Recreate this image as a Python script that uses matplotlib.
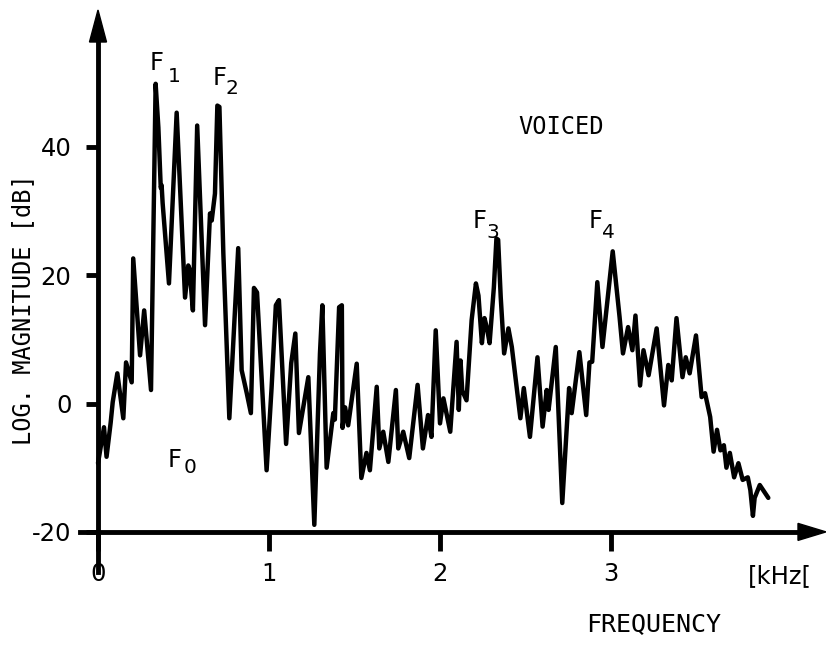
import matplotlib
matplotlib.use("Agg")
import matplotlib.pyplot as plt
from matplotlib import font_manager

# spectrum (frequency in kHz, log magnitude in dB)
freq_khz = [
    0.000, 0.035, 0.050, 0.074, 0.086, 0.113, 0.148, 0.164, 0.197, 0.206,
    0.246, 0.270, 0.310, 0.337, 0.353, 0.367, 0.372, 0.378, 0.415, 0.460,
    0.509, 0.528, 0.535, 0.555, 0.580, 0.626, 0.655, 0.665, 0.684, 0.698,
    0.710, 0.733, 0.768, 0.820, 0.840, 0.870, 0.894, 0.912, 0.930, 0.986,
    1.015, 1.040, 1.058, 1.100, 1.130, 1.154, 1.175, 1.230, 1.265, 1.298,
    1.312, 1.337, 1.376, 1.385, 1.410, 1.426, 1.430, 1.445, 1.463, 1.513,
    1.540, 1.570, 1.590, 1.630, 1.645, 1.668, 1.698, 1.742, 1.756, 1.785,
    1.820, 1.869, 1.900, 1.930, 1.950, 1.975, 2.000, 2.020, 2.060, 2.097,
    2.110, 2.120, 2.130, 2.155, 2.185, 2.210, 2.225, 2.245, 2.260, 2.275,
    2.290, 2.315, 2.330, 2.340, 2.355, 2.375, 2.400, 2.420, 2.470, 2.490,
    2.526, 2.570, 2.600, 2.624, 2.635, 2.677, 2.715, 2.755, 2.770, 2.815,
    2.855, 2.874, 2.890, 2.920, 2.950, 3.010, 3.050, 3.070, 3.100, 3.125,
    3.143, 3.170, 3.190, 3.220, 3.267, 3.310, 3.335, 3.355, 3.383, 3.418,
    3.437, 3.460, 3.497, 3.530, 3.550, 3.580, 3.600, 3.620, 3.640, 3.660,
    3.675, 3.695, 3.720, 3.745, 3.770, 3.800, 3.815, 3.830, 3.840, 3.870,
    3.920,
]
mag_db = [
    -9.3, -3.7, -8.3, -3.0, 0.2, 4.7, -2.3, 6.4, 3.3, 22.6,
    7.5, 14.5, 2.1, 49.8, 43.0, 33.6, 34.0, 31.2, 18.7, 45.3,
    16.5, 21.5, 21.0, 14.5, 43.3, 12.2, 29.6, 28.5, 32.7, 46.4,
    46.2, 23.4, -2.3, 24.2, 5.2, 1.6, -1.5, 18.0, 17.3, -10.4,
    2.4, 15.3, 16.1, -6.3, 6.3, 10.9, -4.6, 4.1, -18.9, 7.8,
    15.3, -10.0, -1.5, -2.5, 15.0, 15.3, -3.8, -0.6, -3.4, 6.2,
    -11.6, -7.7, -10.4, 2.6, -7.0, -4.4, -9.1, 2.1, -7.0, -4.4,
    -8.5, 2.9, -7.0, -1.8, -5.2, 11.4, -3.1, 0.8, -4.4, 9.6,
    -1.0, 6.7, 2.0, 0.5, 13.0, 18.7, 16.8, 9.4, 13.3, 11.7,
    9.4, 18.1, 25.7, 25.5, 16.6, 7.8, 11.7, 8.8, -2.3, 2.4,
    -5.2, 7.2, -3.6, 2.1, -1.0, 8.8, -15.5, 2.4, -1.5, 8.0,
    -1.8, 6.4, 6.5, 18.9, 8.8, 23.7, 13.5, 7.8, 11.9, 8.3,
    13.7, 2.8, 8.3, 4.4, 11.7, -0.3, 6.0, 3.6, 13.3, 4.1,
    7.2, 4.7, 10.6, 1.0, 1.6, -2.1, -7.5, -4.1, -7.3, -6.5,
    -10.0, -7.7, -11.5, -9.3, -11.9, -11.5, -13.5, -17.5, -14.7, -12.7,
    -14.7,
]

x_ticks = [0, 1, 2, 3]
y_ticks = [-20, 0, 20, 40]

# pixel layout of the reference (826x645)
W, H = 826, 645
X0_PX, PX_PER_KHZ = 98, 171
Y0_PX, PX_PER_DB = 403.5, 6.42


def to_data(px, py):
    return (px - X0_PX) / PX_PER_KHZ, (Y0_PX - py) / PX_PER_DB


def has_font(name):
    try:
        font_manager.findfont(font_manager.FontProperties(family=name),
                              fallback_to_default=False)
        return True
    except ValueError:
        return False


if has_font("Liberation Sans Narrow"):
    NARROW, BIG, SUB = "Liberation Sans Narrow", 20, 17
else:
    NARROW, BIG, SUB = "DejaVu Sans", 17.5, 14.5
MONO = "DejaVu Sans Mono"
plt.rcParams["axes.unicode_minus"] = False

fig = plt.figure(figsize=(W / 100, H / 100), dpi=100)
ax = fig.add_axes([0, 0, 1, 1])
ax.set_xlim(to_data(0, 0)[0], to_data(W, 0)[0])
ax.set_ylim(to_data(0, H)[1], to_data(0, 0)[1])
ax.patch.set_visible(False)

LW = 3.5
for s in ["top", "right"]:
    ax.spines[s].set_visible(False)
ax.spines["left"].set_position(("data", 0))
ax.spines["bottom"].set_position(("data", -20))
ax.spines["left"].set_linewidth(LW)
ax.spines["bottom"].set_linewidth(LW)

# axis arrows
y_tip = to_data(0, 10)[1]
y_base = to_data(0, 42)[1]
x_tip = to_data(W, 0)[0]
x_base = to_data(798, 0)[0]
ax.spines["left"].set_bounds(to_data(0, 572)[1], y_base + 0.5)
ax.spines["bottom"].set_bounds(to_data(80, 0)[0], x_base + 0.02)
hw = 8.5 / PX_PER_KHZ
hh = 8.5 / PX_PER_DB
ax.fill([-hw, 0, hw], [y_base, y_tip, y_base], color="k", clip_on=False, zorder=5)
ax.fill([x_base, x_tip, x_base], [-20 - hh, -20, -20 + hh], color="k",
        clip_on=False, zorder=5)

ax.set_xticks(x_ticks)
ax.set_yticks(y_ticks)
ax.tick_params(axis="y", direction="out", length=9, width=LW, pad=10,
               labelsize=BIG, labelfontfamily=NARROW)
ax.tick_params(axis="x", direction="out", length=14, width=LW, pad=8,
               labelsize=BIG, labelfontfamily=NARROW)

ax.plot(freq_khz, mag_db, color="k", lw=3.2, solid_joinstyle="round",
        solid_capstyle="round", clip_on=False, zorder=4)


def formant(label, sub, px, py, dx, dy):
    x, y = to_data(px, py)
    ax.text(x, y, label, fontsize=BIG, family=NARROW, ha="left", va="baseline")
    xs, ys = to_data(px + dx, py + dy)
    ax.text(xs, ys, sub, fontsize=SUB, family=NARROW, ha="left", va="baseline")


formant("F", "1", 150, 70, 18, 12)
formant("F", "2", 213, 85, 13, 9)
formant("F", "3", 473, 228, 13, 10)
formant("F", "4", 589, 228, 13, 10)
formant("F", "0", 168, 467, 16, 6)

ax.text(*to_data(561, 127), "VOICED", fontsize=17, family=MONO,
        ha="center", va="center")
ax.text(*to_data(23, 310), "LOG. MAGNITUDE [dB]", fontsize=17, family=MONO,
        rotation=90, ha="center", va="center")
ax.text(*to_data(780, 576), "[kHz[", fontsize=BIG, family=NARROW,
        ha="center", va="center")
ax.text(*to_data(654, 624), "FREQUENCY", fontsize=18, family=MONO,
        ha="center", va="center")

fig.savefig("out.png", dpi=100, facecolor="white")
